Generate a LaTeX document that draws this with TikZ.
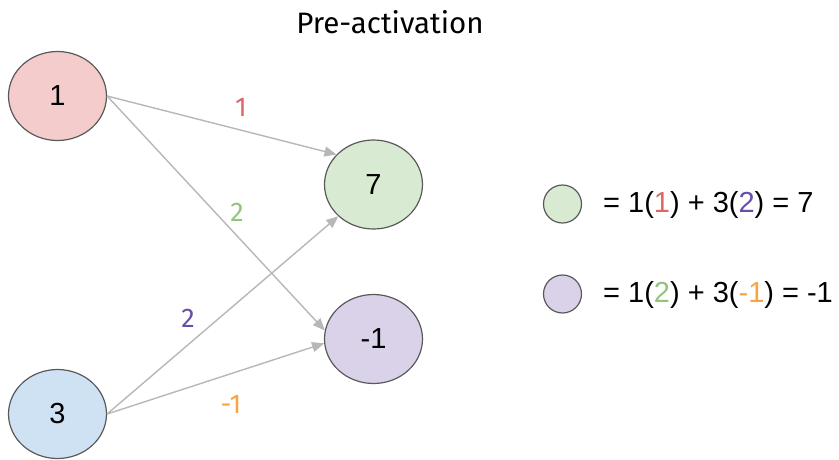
\documentclass[tikz,border=0pt]{standalone}
\usepackage{fontspec}
\setmainfont{Liberation Sans}
\newfontfamily\titlefont{Fira Sans}
\usetikzlibrary{arrows.meta,shapes.geometric}
\definecolor{redfill}{HTML}{F4CCCC}
\definecolor{greenfill}{HTML}{D9EAD3}
\definecolor{bluefill}{HTML}{CFE2F3}
\definecolor{purplefill}{HTML}{D9D2E9}
\definecolor{edgegray}{HTML}{B7B7B7}
\definecolor{bordergray}{HTML}{595959}
\definecolor{wred}{HTML}{E06666}
\definecolor{wgreen}{HTML}{93C47D}
\definecolor{wpurple}{HTML}{674EA7}
\definecolor{worange}{HTML}{F6A540}
\tikzset{
  neuron/.style={ellipse, draw=bordergray, line width=1.2pt, minimum width=98pt, minimum height=89pt, inner sep=0pt, font=\fontsize{29}{32}\selectfont},
  legendball/.style={circle, draw=bordergray, line width=1.2pt, minimum size=38pt, inner sep=0pt},
  conn/.style={draw=edgegray, line width=1.4pt, -{Triangle[length=12pt,width=10pt]}},
  wlabel/.style={font=\titlefont\fontsize{27}{30}\selectfont, inner sep=0pt},
  eqtext/.style={font=\fontsize{29}{32}\selectfont, anchor=west, inner sep=0pt},
}
\begin{document}
\begin{tikzpicture}[x=1pt,y=-1pt]
\useasboundingbox (0,0) rectangle (839,459);
\node[font=\titlefont\fontsize{29.5}{32}\selectfont] (title) at (390,22) {Pre-activation};
\node[neuron, fill=redfill] (a) at (57.5,96) {1};
\node[neuron, fill=bluefill] (b) at (57.5,414) {3};
\node[neuron, fill=greenfill] (c) at (373.5,184.5) {7};
\node[neuron, fill=purplefill] (d) at (373.5,339) {-1};
\draw[conn] (a.east) -- (c.141);
\draw[conn] (a.east) -- (d.170);
\draw[conn] (b.east) -- (c.222);
\draw[conn] (b.east) -- (d.185);
\node[wlabel, text=wred] (w1) at (241,107) {1};
\node[wlabel, text=wgreen] (w2) at (237,212) {2};
\node[wlabel, text=wpurple] (w3) at (188,318) {2};
\node[wlabel, text=worange] (w4) at (231,404) {-1};
\node[legendball, fill=greenfill] (lc) at (562.5,204) {};
\node[legendball, fill=purplefill] (ld) at (562.5,294) {};
\node[eqtext] (eq1) at (603,205) {= 1(\textcolor{wred}{1}) + 3(\textcolor{wpurple}{2}) = 7};
\node[eqtext] (eq2) at (603,295) {= 1(\textcolor{wgreen}{2}) + 3(\textcolor{worange}{-1}) = -1};
\end{tikzpicture}
\end{document}
